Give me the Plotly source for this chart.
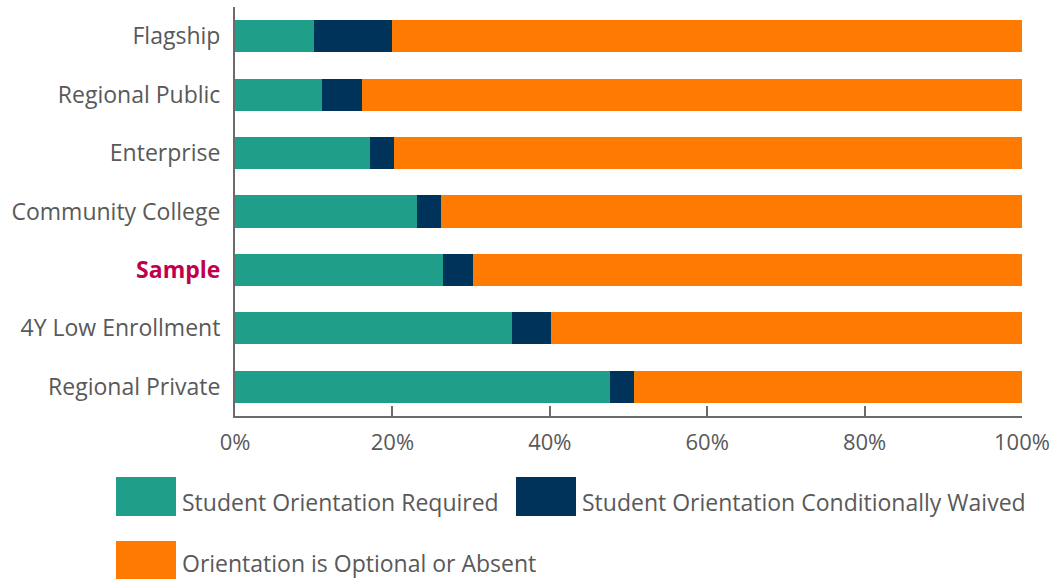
import plotly.graph_objects as go

# Institution groups, top to bottom
categories = ["Flagship", "Regional Public", "Enterprise", "Community College",
              "Sample", "4Y Low Enrollment", "Regional Private"]

# Share of institutions (fraction of 1.0) in each orientation policy
required = [0.101, 0.111, 0.171, 0.231, 0.264, 0.352, 0.476]
waived = [0.099, 0.050, 0.031, 0.031, 0.039, 0.049, 0.031]
optional = [round(1 - r - w, 3) for r, w in zip(required, waived)]

series_names = ["Student Orientation Required",
                "Student Orientation Conditionally Waived",
                "Orientation is Optional or Absent"]
series_values = [required, waived, optional]
series_colors = ["#1F9E89", "#003359", "#FF7A00"]

tick_vals = [0, 0.2, 0.4, 0.6, 0.8, 1.0]
tick_text = ["0%", "20%", "40%", "60%", "80%", "100%"]

FONT = "Open Sans, Segoe UI, sans-serif"
GREY = "#595959"
AXIS = "#6b6b6b"
HIGHLIGHT = "#C0004B"

W, H = 1061, 579
ML, MR, MT, MB = 235, 39, 7, 163

fig = go.Figure()
for name, vals, color in zip(series_names, series_values, series_colors):
    fig.add_trace(go.Bar(
        y=categories, x=vals, name=name, orientation="h",
        marker=dict(color=color, line=dict(width=0)),
        showlegend=False,
    ))

cat_labels = [f"<b><span style='color:{HIGHLIGHT}'>{c}</span></b>" if c == "Sample" else c
              for c in categories]


def px_x(px):
    return (px - ML) / (W - ML - MR)


def px_y(py):
    return (H - MB - py) / (H - MT - MB)


# Legend drawn as large colour swatches with labels beside them
# (colour, label, swatch left, swatch top, swatch bottom, label centre)
legend_items = [
    (series_colors[0], series_names[0], 116, 477, 516, 502),
    (series_colors[1], series_names[1], 516, 477, 516, 502),
    (series_colors[2], series_names[2], 116, 541, 579, 563),
]
shapes = []
annotations = []
for color, label, x0, y0, y1, yc in legend_items:
    shapes.append(dict(type="rect", xref="paper", yref="paper",
                       x0=px_x(x0), x1=px_x(x0 + 60), y0=px_y(y1), y1=px_y(y0),
                       fillcolor=color, line=dict(width=0), layer="above"))
    annotations.append(dict(xref="paper", yref="paper", x=px_x(x0 + 64),
                            y=px_y(yc), xanchor="left", yanchor="middle",
                            text=label, showarrow=False,
                            font=dict(family=FONT, size=23, color=GREY)))

fig.update_layout(
    width=W, height=H,
    barmode="stack", bargap=0.45,
    margin=dict(l=ML, r=MR, t=MT, b=MB),
    paper_bgcolor="white", plot_bgcolor="white",
    font=dict(family=FONT, size=23, color=GREY),
    shapes=shapes, annotations=annotations,
    xaxis=dict(range=[0, 1], tickvals=tick_vals, ticktext=tick_text,
               showgrid=False, zeroline=False, showline=True,
               linecolor=AXIS, linewidth=2, ticks="inside", ticklen=10,
               tickwidth=2, tickcolor=AXIS, ticklabelstandoff=6,
               tickfont=dict(family=FONT, size=22, color=GREY)),
    yaxis=dict(categoryorder="array", categoryarray=categories[::-1],
               tickvals=categories, ticktext=cat_labels,
               showgrid=False, zeroline=False, showline=True,
               linecolor=AXIS, linewidth=2, ticks="", ticklabelstandoff=8,
               tickfont=dict(family=FONT, size=23, color=GREY)),
)

fig.write_html("out.html")
